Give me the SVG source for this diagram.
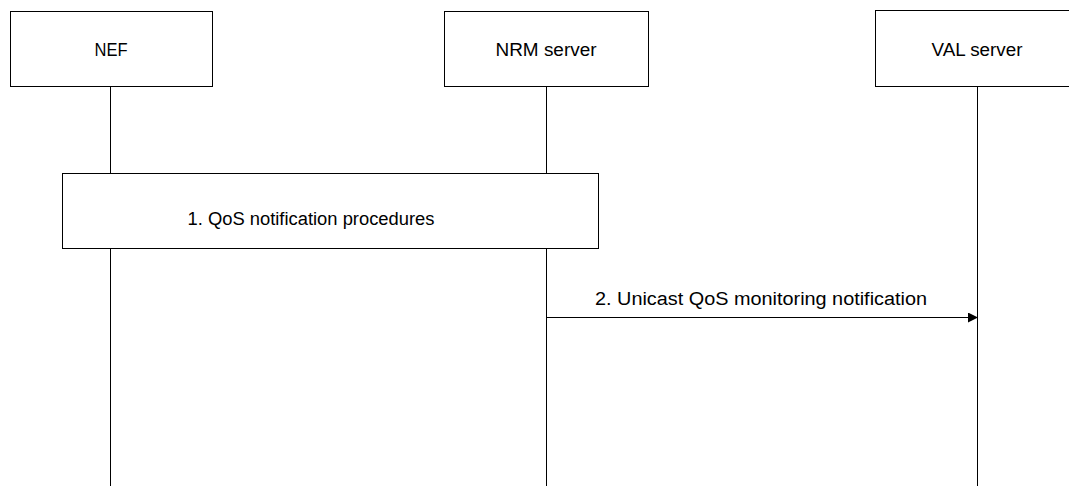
<svg xmlns="http://www.w3.org/2000/svg" width="1069" height="486" viewBox="0 0 1069 486">
<style>
.box{fill:#fff;stroke:#000;stroke-width:1}
.life{stroke:#000;stroke-width:1;fill:none}
.t{font-family:"Liberation Sans",Arial,sans-serif;font-size:18px;fill:#000;text-anchor:middle}
</style>
<defs>
<marker id="ah" markerWidth="10" markerHeight="10" refX="9" refY="5" orient="auto" markerUnits="userSpaceOnUse">
<path d="M0,0 L10,5 L0,10 Z" fill="#000"/>
</marker>
</defs>
<rect width="1069" height="486" fill="#fff"/>
<g id="connectors">
<line class="life" x1="110.5" y1="86" x2="110.5" y2="486"/>
<line class="life" x1="546.5" y1="86" x2="546.5" y2="486"/>
<line class="life" x1="977.5" y1="86" x2="977.5" y2="486"/>
<line class="life" x1="546.5" y1="317.5" x2="977" y2="317.5" marker-end="url(#ah)"/>
<text class="t" x="761" y="305" textLength="332" lengthAdjust="spacingAndGlyphs">2. Unicast QoS monitoring notification</text>
</g>
<g id="nef">
<rect class="box" x="10.5" y="11.5" width="202" height="75"/>
<text class="t" x="111" y="56" textLength="33" lengthAdjust="spacingAndGlyphs">NEF</text>
</g>
<g id="nrm">
<rect class="box" x="444.5" y="11.5" width="204" height="75"/>
<text class="t" x="546" y="56" textLength="101" lengthAdjust="spacingAndGlyphs">NRM server</text>
</g>
<g id="val">
<rect class="box" x="875.5" y="10.5" width="200" height="76"/>
<text class="t" x="977" y="56" textLength="91" lengthAdjust="spacingAndGlyphs">VAL server</text>
</g>
<g id="proc">
<rect class="box" x="62.5" y="173.5" width="536" height="75"/>
<text class="t" x="311" y="225" textLength="247" lengthAdjust="spacingAndGlyphs">1. QoS notification procedures</text>
</g>
</svg>
